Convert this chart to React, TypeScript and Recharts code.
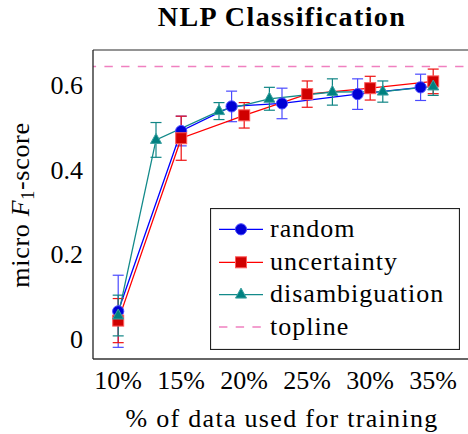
import React from 'react';
import { LineChart, Line, XAxis, YAxis, ErrorBar, ReferenceLine, Legend } from 'recharts';

const FONT = '"Liberation Serif", "Times New Roman", serif';

// values
const randomX = [10, 15, 19, 23, 29, 34];
const randomY = [0.063, 0.488, 0.546, 0.553, 0.575, 0.591];
const randomErr = [0.085, 0.035, 0.036, 0.036, 0.036, 0.031];

const uncertaintyX = [10, 15, 20, 25, 30, 35];
const uncertaintyY = [0.041, 0.471, 0.525, 0.575, 0.589, 0.605];
const uncertaintyErr = [0.052, 0.052, 0.03, 0.031, 0.028, 0.029];

const disambX = [10, 13, 18, 22, 27, 31, 35];
const disambY = [0.053, 0.467, 0.535, 0.564, 0.58, 0.581, 0.593];
const disambErr = [0.048, 0.041, 0.02, 0.027, 0.031, 0.025, 0.021];

const topline = 0.64;

const xTicks = [10, 15, 20, 25, 30, 35];
const yMajorTicks = [0, 0.2, 0.4, 0.6];
const yMinorTicks = [0.1, 0.3, 0.5];
const xDomain = [8, 38];
const yDomain = [-0.0495, 0.679];

const toRows = (xs: number[], ys: number[], errs: number[]) =>
  xs.map((x, i) => ({ x, y: ys[i], err: errs[i] }));

type Shape = 'circle' | 'square' | 'triangle';

const series = [
  { name: 'random', rows: toRows(randomX, randomY, randomErr), line: '#0000ff', fill: '#0000d4', edge: '#4d4dff', err: '#4a4aff', shape: 'circle' as Shape },
  { name: 'uncertainty', rows: toRows(uncertaintyX, uncertaintyY, uncertaintyErr), line: '#ff0000', fill: '#d00000', edge: '#ff5a5a', err: '#ee1111', shape: 'square' as Shape },
  { name: 'disambiguation', rows: toRows(disambX, disambY, disambErr), line: '#138a8a', fill: '#008080', edge: '#3aa0a0', err: '#108585', shape: 'triangle' as Shape },
];

const Mark = ({ cx, cy, shape, fill, edge }: { cx?: number; cy?: number; shape: Shape; fill: string; edge: string }) => {
  if (cx == null || cy == null) return null;
  if (shape === 'square') {
    return <rect x={cx - 5.5} y={cy - 5.5} width={11} height={11} fill={fill} stroke={edge} strokeWidth={1} />;
  }
  if (shape === 'triangle') {
    return (
      <polygon
        points={`${cx},${cy - 6.5} ${cx + 5.5},${cy + 3.5} ${cx - 5.5},${cy + 3.5}`}
        fill={fill}
        stroke={edge}
        strokeWidth={1}
      />
    );
  }
  return <circle cx={cx} cy={cy} r={5.6} fill={fill} stroke={edge} strokeWidth={1} />;
};

const LegendBox = () => {
  const rowY = [21.3, 54.3, 86.6, 119];
  return (
    <svg width={250} height={142} style={{ display: 'block' }}>
      <rect x={0.5} y={0.5} width={249} height={141} fill="#fff" stroke="#222" strokeWidth={1.2} />
      {series.map((s, i) => (
        <g key={s.name}>
          <line x1={9} x2={53} y1={rowY[i]} y2={rowY[i]} stroke={s.line} strokeWidth={1.3} />
          <Mark cx={31} cy={rowY[i]} shape={s.shape} fill={s.fill} edge={s.edge} />
          <text x={60} y={rowY[i] + 7.5} fontSize={26} fontFamily={FONT} letterSpacing={1} fill="#000">
            {s.name}
          </text>
        </g>
      ))}
      <line x1={9} x2={53} y1={rowY[3]} y2={rowY[3]} stroke="#f080c0" strokeWidth={1.5} strokeDasharray="8.4 8.3" />
      <text x={60} y={rowY[3] + 7.5} fontSize={26} fontFamily={FONT} letterSpacing={1} fill="#000">
        topline
      </text>
    </svg>
  );
};

const tickStyle = { fontSize: 26, fontFamily: FONT, fill: '#000' };

export default function App() {
  return (
    <div style={{ position: 'absolute', left: 0, top: 0, width: 468, height: 434, overflow: 'hidden', background: '#fff' }}>
      <svg width={468} height={40} style={{ position: 'absolute', left: 0, top: 0 }}>
        <text x={282} y={26} textAnchor="middle" fontSize={28} fontWeight="bold" fontFamily={FONT} letterSpacing={1.4} fill="#000">
          NLP Classification
        </text>
      </svg>
      <LineChart width={480} height={434} margin={{ top: 50, right: 9, bottom: 35, left: 0 }}>
        <XAxis
          xAxisId="main"
          dataKey="x"
          type="number"
          domain={xDomain}
          allowDataOverflow
          ticks={xTicks}
          interval={0}
          tickFormatter={(v: number) => `${v}%`}
          tick={tickStyle}
          tickLine={false}
          tickSize={0}
          tickMargin={12}
          height={40}
          axisLine={{ stroke: '#333', strokeWidth: 1.3 }}
          label={{
            content: (p: any) => {
              const vb = p.viewBox || { x: 93, width: 378 };
              return (
                <text x={vb.x + vb.width / 2} y={427} textAnchor="middle" fontSize={26} fontFamily={FONT} letterSpacing={1.3} fill="#000">
                  % of data used for training
                </text>
              );
            },
          }}
        />
        <XAxis
          xAxisId="bottomTicks"
          type="number"
          orientation="bottom"
          mirror
          height={1}
          domain={xDomain}
          allowDataOverflow
          ticks={xTicks}
          interval={0}
          tick={false}
          tickSize={11}
          tickLine={{ stroke: '#808080', strokeWidth: 1.2 }}
          axisLine={false}
        />
        <XAxis
          xAxisId="top"
          type="number"
          orientation="top"
          mirror
          height={1}
          domain={xDomain}
          allowDataOverflow
          ticks={xTicks}
          interval={0}
          tick={false}
          tickSize={11}
          tickLine={{ stroke: '#808080', strokeWidth: 1.2 }}
          axisLine={{ stroke: '#707070', strokeWidth: 1.3 }}
        />
        <YAxis
          yAxisId="main"
          type="number"
          domain={yDomain}
          allowDataOverflow
          ticks={yMajorTicks}
          interval={0}
          tickFormatter={(v: number) => (v === 0 ? '0' : String(v))}
          tick={{ ...tickStyle, dy: 1 }}
          tickLine={false}
          tickSize={0}
          tickMargin={10}
          width={93}
          axisLine={{ stroke: '#222', strokeWidth: 1.3 }}
          label={{
            content: () => (
              <text x={29} y={205} transform="rotate(-90 29 205)" textAnchor="middle" fontSize={26} fontFamily={FONT} letterSpacing={0.7} fill="#000">
                micro <tspan fontStyle="italic">F</tspan>
                <tspan fontSize={18} dy={5}>1</tspan>
                <tspan dy={-5}>-score</tspan>
              </text>
            ),
          }}
        />
        <YAxis
          yAxisId="leftMajor"
          type="number"
          mirror
          width={1}
          domain={yDomain}
          allowDataOverflow
          ticks={yMajorTicks}
          interval={0}
          tick={false}
          tickSize={11}
          tickLine={{ stroke: '#c0c0c0', strokeWidth: 1.2 }}
          axisLine={false}
        />
        <YAxis
          yAxisId="leftMinor"
          type="number"
          mirror
          width={1}
          domain={yDomain}
          allowDataOverflow
          ticks={yMinorTicks}
          interval={0}
          tick={false}
          tickSize={7}
          tickLine={{ stroke: '#808080', strokeWidth: 1.2 }}
          axisLine={false}
        />
        <YAxis
          yAxisId="rightMajor"
          type="number"
          orientation="right"
          mirror
          width={1}
          domain={yDomain}
          allowDataOverflow
          ticks={yMajorTicks}
          interval={0}
          tick={false}
          tickSize={11}
          tickLine={{ stroke: '#c0c0c0', strokeWidth: 1.2 }}
          axisLine={{ stroke: '#707070', strokeWidth: 1.3 }}
        />
        <YAxis
          yAxisId="rightMinor"
          type="number"
          orientation="right"
          mirror
          width={1}
          domain={yDomain}
          allowDataOverflow
          ticks={yMinorTicks}
          interval={0}
          tick={false}
          tickSize={7}
          tickLine={{ stroke: '#808080', strokeWidth: 1.2 }}
          axisLine={false}
        />
        <ReferenceLine
          xAxisId="main"
          yAxisId="main"
          y={topline}
          stroke="#f080c0"
          strokeWidth={1.5}
          strokeDasharray="8.4 8.3"
          strokeDashoffset={5.3}
        />
        {series.map((s) => (
          <Line
            key={s.name}
            xAxisId="main"
            yAxisId="main"
            data={s.rows}
            dataKey="y"
            name={s.name}
            type="linear"
            stroke={s.line}
            strokeWidth={1.3}
            isAnimationActive={false}
            dot={(p: any) => (
              <Mark key={`${s.name}-${p.index}`} cx={p.cx} cy={p.cy} shape={s.shape} fill={s.fill} edge={s.edge} />
            )}
            activeDot={false}
          >
            <ErrorBar dataKey="err" direction="y" width={5.5} stroke={s.err} strokeWidth={1.2} isAnimationActive={false} />
          </Line>
        ))}
        <Legend
          layout="horizontal"
          verticalAlign="middle"
          align="center"
          content={() => <LegendBox />}
          wrapperStyle={{ position: 'absolute', left: 210, top: 208, width: 250, height: 142 }}
        />
      </LineChart>
    </div>
  );
}
